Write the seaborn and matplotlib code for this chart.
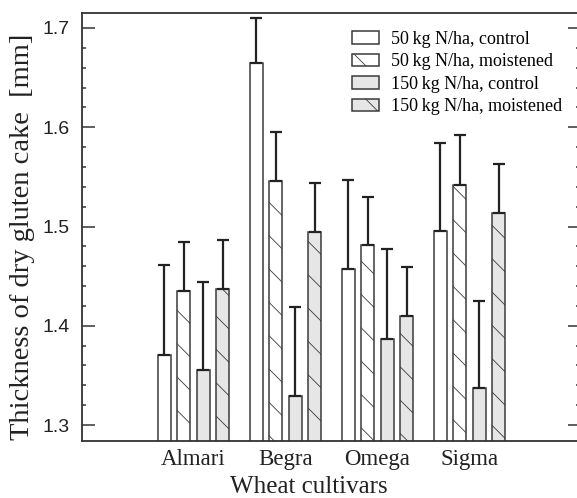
import numpy as np
import pandas as pd
import matplotlib
matplotlib.use("Agg")
import matplotlib.pyplot as plt
import seaborn as sns

cultivars = ["Almari", "Begra", "Omega", "Sigma"]
treatments = ["50 kg N/ha, control", "50 kg N/ha, moistened",
              "150 kg N/ha, control", "150 kg N/ha, moistened"]
legend_labels = ["50\u2009kg N/ha, control", "50\u2009kg N/ha, moistened",
                 "150\u2009kg N/ha, control", "150\u2009kg N/ha, moistened"]

# mean values per treatment (order of cultivars)
n50_control = [1.371, 1.665, 1.457, 1.495]
n50_moist = [1.435, 1.546, 1.481, 1.542]
n150_control = [1.355, 1.329, 1.387, 1.337]
n150_moist = [1.437, 1.494, 1.410, 1.514]

# upper error (top of whisker minus mean)
err50_control = [0.090, 0.045, 0.090, 0.089]
err50_moist = [0.049, 0.049, 0.049, 0.050]
err150_control = [0.089, 0.090, 0.090, 0.088]
err150_moist = [0.049, 0.050, 0.049, 0.049]

means = [n50_control, n50_moist, n150_control, n150_moist]
errs = [err50_control, err50_moist, err150_control, err150_moist]

rows = []
for t, vals in zip(treatments, means):
    for c, v in zip(cultivars, vals):
        rows.append({"cultivar": c, "treatment": t, "value": v})
df = pd.DataFrame(rows)

fills = ["#ffffff", "#ffffff", "#e6e6e6", "#e6e6e6"]
hatches = ["", "\\", "", "\\"]

plt.rcParams["hatch.linewidth"] = 0.6
plt.rcParams["hatch.color"] = "#666666"

fig = plt.figure(figsize=(5.77, 4.98), dpi=100)
ax = fig.add_axes([82 / 577, (498 - 441) / 498, (580 - 82) / 577, (441 - 13) / 498])

sns.barplot(data=df, x="cultivar", y="value", hue="treatment",
            order=cultivars, hue_order=treatments,
            palette=dict(zip(treatments, fills)), saturation=1,
            width=0.845, gap=0.33, errorbar=None, legend=False,
            edgecolor="#3a3a3a", linewidth=1.1, ax=ax)

handles = []
bar_containers = list(ax.containers)
for i, cont in enumerate(bar_containers):
    xs, ys = [], []
    for p in cont.patches:
        p.set_hatch(hatches[i])
        xs.append(p.get_x() + p.get_width() / 2)
        ys.append(p.get_height())
    handles.append(cont.patches[0])
    ax.errorbar(xs, ys, yerr=[np.zeros(len(ys)), errs[i]], fmt="none",
                ecolor="#222222", elinewidth=1.6, capsize=4, capthick=1.6,
                zorder=3)

ax.set_xlim(-1.21, 4.2)
ax.set_ylim(1.2839, 1.7151)
ax.yaxis.set_major_locator(matplotlib.ticker.MultipleLocator(0.1))
ax.yaxis.set_minor_locator(matplotlib.ticker.MultipleLocator(0.02))
ax.yaxis.set_major_formatter(matplotlib.ticker.FormatStrFormatter("%.1f"))
ax.tick_params(axis="y", which="both", direction="in", left=True, right=True,
               color="#333333", width=1.1, labelsize=14, pad=9)
ax.tick_params(axis="y", which="major", length=9)
ax.tick_params(axis="y", which="minor", length=3)
ax.tick_params(axis="x", length=0, pad=6)
for lab in ax.get_yticklabels():
    lab.set_fontfamily("Liberation Sans")
    lab.set_color("#222222")
for lab in ax.get_xticklabels():
    lab.set_fontfamily("Liberation Serif")
    lab.set_fontsize(16.5)
    lab.set_color("#222222")
for s in ax.spines.values():
    s.set_color("#333333")
    s.set_linewidth(1.3)

ax.set_xlabel("Wheat cultivars", fontfamily="Liberation Serif", fontsize=18,
              color="#222222")
ax.xaxis.set_label_coords(0.456, -0.081)
ax.set_ylabel("Thickness of dry gluten cake  [mm]", fontfamily="Liberation Serif",
              fontsize=20.5, color="#222222")
ax.yaxis.set_label_coords(-0.094, 0.477)

fig.legend(handles=handles, labels=legend_labels, loc="upper left",
           bbox_to_anchor=(352 / 577, 1 - 31 / 498), frameon=False,
           borderpad=0, borderaxespad=0, handlelength=1.5, handleheight=0.7,
           handletextpad=0.65, labelspacing=0.3,
           prop={"family": "Liberation Serif", "size": 13})

fig.savefig("out.png", dpi=100)
